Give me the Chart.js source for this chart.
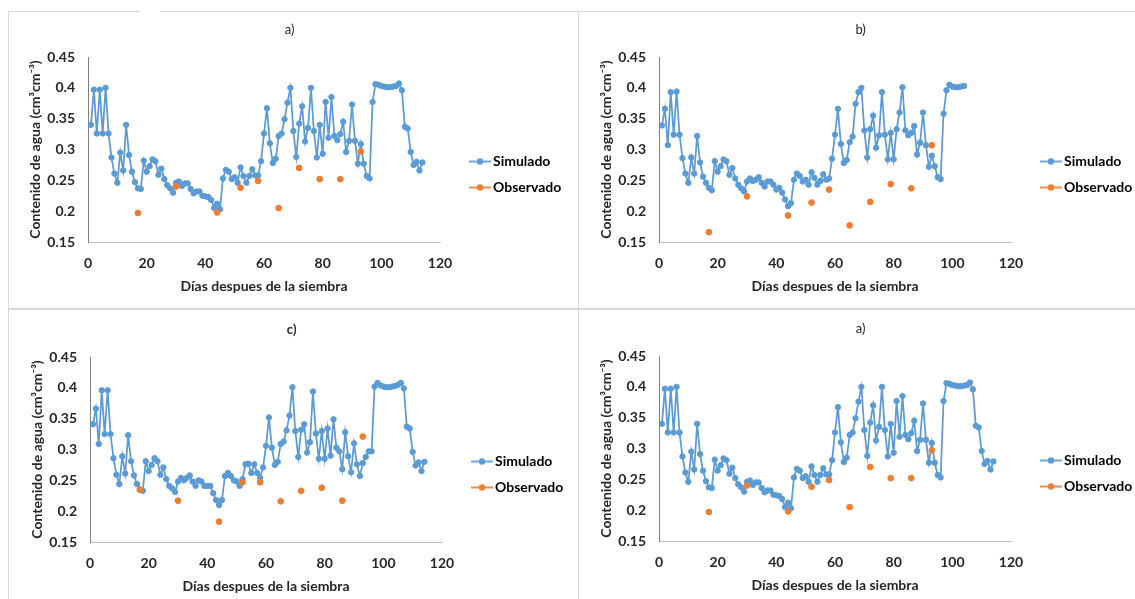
<!DOCTYPE html>
<html>
<head>
<meta charset="utf-8">
<script src="https://cdn.jsdelivr.net/npm/chart.js@4.4.1/dist/chart.umd.min.js"></script>
<style>
  html, body { margin: 0; padding: 0; background: #fff; }
  body { width: 1135px; height: 599px; overflow: hidden; position: relative; }
  .panel { position: absolute; border: 1px solid #d9d9d9; box-sizing: border-box; }
  canvas { position: absolute; }
</style>
</head>
<body>
<div class="panel" style="left:8px;top:11px;width:571px;height:298px"></div>
<div class="panel" style="left:578px;top:11px;width:600px;height:298px"></div>
<div class="panel" style="left:8px;top:309px;width:571px;height:300px"></div>
<div class="panel" style="left:578px;top:309px;width:600px;height:300px"></div>
<div style="position:absolute;left:140px;top:9px;width:20px;height:4px;background:#fff"></div>

<canvas id="chartA" width="570" height="297" style="left:8px;top:11px"></canvas>
<canvas id="chartB" width="570" height="297" style="left:579px;top:11px"></canvas>
<canvas id="chartC" width="570" height="297" style="left:10px;top:311px"></canvas>
<canvas id="chartD" width="570" height="297" style="left:579px;top:310px"></canvas>

<script>
// days after sowing (x) for the simulated series
const dias114 = [1, 2, 3, 4, 5, 6, 7, 8, 9, 10, 11, 12, 13, 14, 15, 16, 17, 18, 19, 20,
  21, 22, 23, 24, 25, 26, 27, 28, 29, 30, 31, 32, 33, 34, 35, 36, 37, 38, 39, 40,
  41, 42, 43, 44, 45, 46, 47, 48, 49, 50, 51, 52, 53, 54, 55, 56, 57, 58, 59, 60,
  61, 62, 63, 64, 65, 66, 67, 68, 69, 70, 71, 72, 73, 74, 75, 76, 77, 78, 79, 80,
  81, 82, 83, 84, 85, 86, 87, 88, 89, 90, 91, 92, 93, 94, 95, 96, 97, 98, 99, 100,
  101, 102, 103, 104, 105, 106, 107, 108, 109, 110, 111, 112, 113, 114];
const dias104 = dias114.slice(0, 104);
// sampling days of the observed values
const diasObs = [17, 30, 44, 52, 58, 65, 72, 79, 86, 93];

// panel a) simulated water content
const simA = [
  0.340, 0.397, 0.326, 0.397, 0.326, 0.400, 0.326, 0.287, 0.261, 0.246,
  0.295, 0.266, 0.340, 0.291, 0.264, 0.247, 0.237, 0.236, 0.282, 0.264,
  0.273, 0.284, 0.281, 0.259, 0.269, 0.252, 0.242, 0.237, 0.230, 0.246,
  0.248, 0.241, 0.245, 0.245, 0.236, 0.229, 0.232, 0.232, 0.225, 0.224,
  0.223, 0.218, 0.205, 0.212, 0.203, 0.253, 0.267, 0.264, 0.252, 0.255,
  0.246, 0.271, 0.257, 0.246, 0.257, 0.268, 0.258, 0.258, 0.281, 0.326,
  0.367, 0.310, 0.278, 0.285, 0.322, 0.326, 0.349, 0.376, 0.400, 0.330,
  0.288, 0.342, 0.370, 0.313, 0.335, 0.400, 0.330, 0.287, 0.340, 0.293,
  0.377, 0.319, 0.385, 0.322, 0.315, 0.325, 0.345, 0.296, 0.314, 0.373,
  0.314, 0.277, 0.309, 0.277, 0.257, 0.253, 0.377, 0.406, 0.405, 0.403,
  0.402, 0.401, 0.401, 0.402, 0.403, 0.407, 0.396, 0.337, 0.334, 0.296,
  0.275, 0.280, 0.266, 0.279];
const obsA = [0.197, 0.240, 0.198, 0.238, 0.249, 0.205, 0.270, 0.252, 0.252, 0.297];

// panel b)
const simB = [
  0.339, 0.366, 0.307, 0.393, 0.324, 0.394, 0.324, 0.286, 0.261, 0.246,
  0.287, 0.261, 0.322, 0.279, 0.256, 0.246, 0.238, 0.234, 0.281, 0.264,
  0.273, 0.284, 0.281, 0.259, 0.270, 0.253, 0.243, 0.237, 0.232, 0.248,
  0.253, 0.249, 0.251, 0.255, 0.246, 0.240, 0.248, 0.248, 0.243, 0.235,
  0.238, 0.230, 0.219, 0.208, 0.213, 0.251, 0.261, 0.257, 0.248, 0.251,
  0.243, 0.263, 0.254, 0.243, 0.249, 0.260, 0.251, 0.253, 0.285, 0.324,
  0.366, 0.309, 0.278, 0.283, 0.312, 0.321, 0.374, 0.393, 0.400, 0.331,
  0.287, 0.333, 0.355, 0.303, 0.323, 0.393, 0.324, 0.284, 0.327, 0.284,
  0.333, 0.360, 0.401, 0.331, 0.323, 0.327, 0.338, 0.292, 0.311, 0.360,
  0.307, 0.272, 0.290, 0.273, 0.255, 0.252, 0.358, 0.396, 0.405, 0.402,
  0.401, 0.401, 0.402, 0.403];
const obsB = [0.166, 0.224, 0.193, 0.214, 0.235, 0.177, 0.215, 0.244, 0.237, 0.307];

// panel c)
const simC = [
  0.341, 0.366, 0.309, 0.396, 0.325, 0.396, 0.325, 0.286, 0.259, 0.244,
  0.289, 0.261, 0.323, 0.281, 0.258, 0.244, 0.235, 0.233, 0.281, 0.265,
  0.275, 0.286, 0.281, 0.259, 0.271, 0.252, 0.241, 0.237, 0.231, 0.248,
  0.254, 0.250, 0.254, 0.258, 0.248, 0.241, 0.250, 0.248, 0.241, 0.241,
  0.241, 0.229, 0.218, 0.210, 0.218, 0.257, 0.262, 0.257, 0.250, 0.248,
  0.241, 0.252, 0.276, 0.277, 0.262, 0.276, 0.262, 0.254, 0.271, 0.306,
  0.352, 0.303, 0.275, 0.280, 0.309, 0.313, 0.331, 0.355, 0.401, 0.330,
  0.288, 0.332, 0.341, 0.295, 0.312, 0.394, 0.326, 0.285, 0.330, 0.285,
  0.334, 0.290, 0.349, 0.303, 0.297, 0.268, 0.328, 0.289, 0.263, 0.310,
  0.276, 0.257, 0.278, 0.288, 0.297, 0.297, 0.402, 0.408, 0.404, 0.402,
  0.401, 0.401, 0.402, 0.403, 0.405, 0.408, 0.399, 0.337, 0.334, 0.296,
  0.274, 0.279, 0.265, 0.280];
const obsC = [0.235, 0.217, 0.183, 0.247, 0.247, 0.216, 0.233, 0.238, 0.217, 0.321];

// axis ticks
const xTicks = [0, 20, 40, 60, 80, 100, 120];
const yTicks = [0.15, 0.2, 0.25, 0.3, 0.35, 0.4, 0.45];
const seriesNames = ["Simulado", "Observado"];

const BLUE = "#5b9bd5";
const ORANGE = "#ed7d31";
const TEXT = "#262626";
const FONT = "Lato, 'Open Sans', sans-serif";

// small "line with dot" image used as legend marker (Excel look)
function makeMarker(color) {
  const c = document.createElement("canvas");
  c.width = 44;
  c.height = 10;
  const g = c.getContext("2d");
  g.strokeStyle = color;
  g.lineWidth = 1.75;
  g.beginPath();
  g.moveTo(22, 5);
  g.lineTo(44, 5);
  g.stroke();
  g.fillStyle = color;
  g.beginPath();
  g.arc(33, 5, 3.2, 0, Math.PI * 2);
  g.fill();
  return c;
}
const markers = [makeMarker(BLUE), makeMarker(ORANGE)];

// work out right padding so the plot ends where it does in the figure
const measure = document.createElement("canvas").getContext("2d");
measure.font = "bold 14px " + FONT;
const legendTextW = Math.max(...seriesNames.map((t) => measure.measureText(t).width));
const PLOT_RIGHT = 432;
const LEG_PAD = 12;
const LEG_BOX = 34;
const padRight = 570 - PLOT_RIGHT - (LEG_PAD + LEG_BOX + 7 + legendTextW + 10);

function drawPanel(id, title, titleBold, days, sim, obs) {
  const ctx = document.getElementById(id).getContext("2d");
  return new Chart(ctx, {
    type: "scatter",
    data: {
      datasets: [
        {
          label: seriesNames[0],
          data: days.map((d, i) => ({ x: d, y: sim[i] })),
          showLine: true,
          order: 1,
          borderColor: BLUE,
          backgroundColor: BLUE,
          borderWidth: 1.75,
          pointRadius: 2.7,
          pointBorderWidth: 1,
        },
        {
          label: seriesNames[1],
          data: diasObs.map((d, i) => ({ x: d, y: obs[i] })),
          showLine: false,
          order: 0,
          borderColor: ORANGE,
          backgroundColor: ORANGE,
          pointRadius: 2.9,
          pointBorderWidth: 1,
        },
      ],
    },
    options: {
      responsive: false,
      animation: false,
      layout: { padding: { top: 30, right: padRight, bottom: 0, left: 0 } },
      plugins: {
        tooltip: { enabled: false },
        title: {
          display: true,
          text: title,
          color: TEXT,
          font: { family: FONT, size: 13, weight: titleBold ? "bold" : "normal" },
          padding: { top: -18.8, bottom: 19.2 },
        },
        legend: {
          display: true,
          position: "right",
          labels: {
            usePointStyle: true,
            pointStyleWidth: LEG_BOX,
            padding: LEG_PAD,
            color: TEXT,
            font: { family: FONT, size: 14, weight: "bold" },
            generateLabels: (chart) =>
              chart.data.datasets.map((ds, i) => ({
                text: ds.label,
                pointStyle: markers[i],
                fillStyle: ds.backgroundColor,
                strokeStyle: ds.borderColor,
                lineWidth: 0,
                hidden: false,
                datasetIndex: i,
              })),
          },
        },
      },
      scales: {
        x: {
          type: "linear",
          min: 0,
          max: 120,
          afterBuildTicks: (axis) => {
            axis.ticks = xTicks.map((v) => ({ value: v }));
          },
          afterFit: (axis) => {
            axis.height = 66;
          },
          grid: { display: false, drawTicks: false },
          border: { display: true, color: "#bfbfbf", width: 1 },
          ticks: {
            padding: 12.6,
            color: TEXT,
            font: { family: FONT, size: 14, weight: "bold" },
            callback: (v) => String(v),
          },
          title: {
            display: true,
            text: "Días despues de la siembra",
            color: TEXT,
            font: { family: FONT, size: 14, weight: "bold" },
            padding: { top: 0, bottom: 13.6 },
          },
        },
        y: {
          type: "linear",
          min: 0.15,
          max: 0.45,
          afterBuildTicks: (axis) => {
            axis.ticks = yTicks.map((v) => ({ value: v }));
          },
          afterFit: (axis) => {
            axis.width = 80;
          },
          grid: { display: false, drawTicks: false },
          border: { display: true, color: "#7f7f7f", width: 1 },
          ticks: {
            padding: 13,
            color: TEXT,
            font: { family: FONT, size: 14, weight: "bold" },
            callback: (v) => String(v),
          },
          title: {
            display: true,
            text: "Contenido de agua (cm³cm⁻³)",
            color: TEXT,
            font: { family: FONT, size: 14, weight: "bold" },
            padding: { top: 18.6, bottom: 0 },
          },
        },
      },
    },
  });
}

drawPanel("chartA", "a)", false, dias114, simA, obsA);
drawPanel("chartB", "b)", false, dias104, simB, obsB);
drawPanel("chartC", "c)", true, dias114, simC, obsC);
drawPanel("chartD", "a)", false, dias114, simA, obsA);
</script>
</body>
</html>
